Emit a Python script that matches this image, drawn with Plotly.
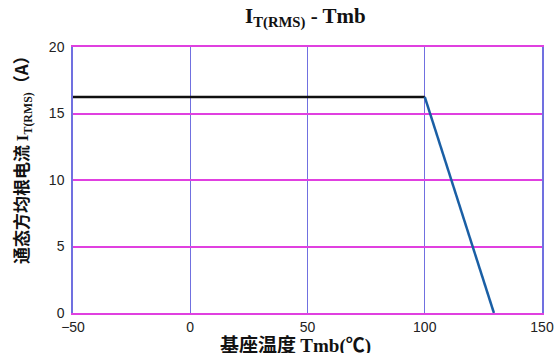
import plotly.graph_objects as go

# data
flat_x = [-50, 100]
flat_y = [16.25, 16.25]
derate_x = [100, 129.5]
derate_y = [16.25, 0]
x_ticks = [-50, 0, 50, 100, 150]
x_tick_text = ["\u221250", "0", "50", "100", "150"]
y_ticks = [0, 5, 10, 15, 20]

fig = go.Figure()
fig.add_trace(go.Scatter(x=flat_x, y=flat_y, mode="lines",
                         line=dict(color="#101010", width=2.5), showlegend=False))
fig.add_trace(go.Scatter(x=derate_x, y=derate_y, mode="lines",
                         line=dict(color="#1a5fa5", width=2.5), showlegend=False))

serif = "Liberation Serif, Times New Roman, serif"
cjk = "Noto Sans CJK SC"
L, R, T, B = 73, 13, 47, 43
W, H = 555, 356
pw, ph = W - L - R, H - T - B


def px(x):
    return (x - L) / pw


def py(y):
    return (H - B - y) / ph


fig.update_layout(
    width=W, height=H,
    margin=dict(l=L, r=R, t=T, b=B, autoexpand=False),
    paper_bgcolor="white", plot_bgcolor="white",
    xaxis=dict(
        range=[-50, 150], tickvals=x_ticks, ticktext=x_tick_text, automargin=False,
        showgrid=True, gridcolor="#7070e0", gridwidth=1,
        zeroline=False, showline=True, linecolor="#e040e0", linewidth=1.5, mirror=True,
        ticks="", ticklen=0,
        tickfont=dict(family="Liberation Sans, Arial, sans-serif", size=14, color="#222222"),
    ),
    yaxis=dict(
        range=[0, 20], tickvals=y_ticks, automargin=False,
        showgrid=True, gridcolor="#e040e0", gridwidth=1.5,
        zeroline=False, showline=True, linecolor="#7070e0", linewidth=1.5, mirror=True,
        ticks="", ticklen=0, ticklabelstandoff=4,
        tickfont=dict(family="Liberation Sans, Arial, sans-serif", size=14, color="#222222"),
    ),
    annotations=[
        dict(text="<b>I<sub>T(RMS)</sub> - Tmb</b>", xref="paper", yref="paper",
             x=px(305), y=py(18), xanchor="center", yanchor="middle", showarrow=False,
             font=dict(family=serif, size=21, color="#111111")),
        dict(text="<b>基座温度 <span style='font-family:Liberation Serif'>Tmb(</span>℃<span style='font-family:Liberation Serif'>)</span></b>",
             xref="paper", yref="paper", x=px(295), y=py(343), xanchor="center", yanchor="middle",
             height=20, valign="middle",
             showarrow=False, font=dict(family=cjk, size=19, color="#111111")),
        dict(text="<b>通态方均根电流 <span style='font-family:Liberation Serif'>I<sub>T(RMS)</sub></span>（A）</b>",
             xref="paper", yref="paper", x=px(21), y=py(156), xanchor="center", yanchor="middle",
             textangle=-90, showarrow=False, font=dict(family=cjk, size=17, color="#111111")),
    ],
)

fig.write_html("out.html", config={"displayModeBar": False},
               post_script="document.body.style.margin='0';document.body.style.overflow='hidden';")
